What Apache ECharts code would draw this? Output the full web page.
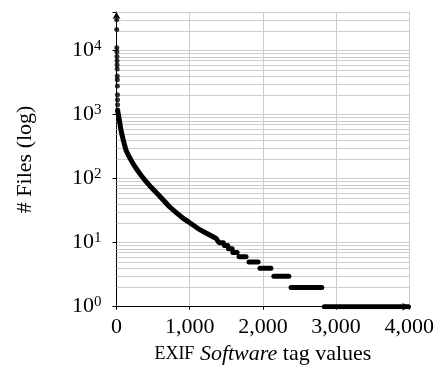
<!DOCTYPE html>
<html>
<head>
<meta charset="utf-8">
<script src="https://cdn.jsdelivr.net/npm/echarts@6/dist/echarts.min.js"></script>
<style>
  html, body { margin: 0; padding: 0; background: #fff; }
  #chart { width: 437px; height: 379px; }
</style>
</head>
<body>
<div id="chart"></div>
<script>
const FONT = 'Liberation Serif';
const FONT_SIZE = 22;
const GRID_COLOR = '#cccccc';
const LINE_WIDTH = 5;

// the few most frequent values, drawn as single dots
let headRanks = [1, 2, 3, 4, 5, 6, 7, 8, 9, 10, 11, 12, 13, 14, 15, 16];
let headCounts = [40600, 30200, 21300, 11100, 9600, 8100, 6900, 5950, 5170, 4000, 3500, 2800, 2050, 1700, 1420, 1180];

// long tail, dense enough to look like a thick line
let curveRanks = [16, 38, 61, 93, 129, 184, 252, 343, 456, 592, 729, 910, 1000, 1137, 1365, 1400, 1460];
let curveCounts = [1150, 830, 575, 400, 282, 209, 154, 110, 77, 53, 36, 24, 20.5, 16, 11.5, 10, 10];

// plateaus of values seen only a handful of times
let stepCounts = [9, 8, 7, 6, 5, 4, 3, 2, 1];
let stepFrom = [1475, 1530, 1590, 1675, 1810, 1960, 2150, 2385, 2840];
let stepTo = [1520, 1580, 1648, 1770, 1935, 2110, 2355, 2805, 3990];

let minorFactors = [2, 3, 4, 5, 6, 7, 8, 9];
let decades = [1, 10, 100, 1000, 10000];
let yMax = 40000;

let minorGrid = [];
decades.forEach(function (d) {
  minorFactors.forEach(function (f) {
    if (d * f <= yMax) minorGrid.push({ yAxis: d * f });
  });
});

let tailLine = {
  type: 'line',
  data: curveRanks.map(function (r, i) { return [r, curveCounts[i]]; }),
  showSymbol: false,
  smooth: 0.2,
  lineStyle: { color: '#000', width: LINE_WIDTH, cap: 'round', join: 'round' },
  z: 3
};

let stepLines = stepCounts.map(function (c, i) {
  return {
    type: 'line',
    data: [[stepFrom[i], c], [stepTo[i], c]],
    showSymbol: false,
    lineStyle: { color: '#000', width: LINE_WIDTH, cap: 'round' },
    z: 3
  };
});

var chartDom = document.getElementById('chart');
var chart = echarts.init(chartDom);
option = {
  animation: false,
  textStyle: { fontFamily: FONT },
  grid: { left: 116.5, right: 27, top: 12, bottom: 72.3, containLabel: false },
  xAxis: {
    type: 'value',
    min: 0,
    max: 4000,
    interval: 1000,
    name: '{sc|EXIF} {it|Software} tag values',
    nameLocation: 'middle',
    nameGap: 35,
    nameTextStyle: {
      fontFamily: FONT,
      fontSize: FONT_SIZE,
      color: '#000',
      rich: {
        sc: { fontFamily: FONT, fontSize: 18, color: '#000' },
        it: { fontFamily: FONT, fontSize: FONT_SIZE, fontStyle: 'italic', color: '#000' }
      }
    },
    axisLine: {
      lineStyle: { color: '#000', width: 1 },
      symbol: ['none', 'arrow'],
      symbolSize: [6, 7]
    },
    axisTick: { show: true, length: 3, lineStyle: { color: '#000' } },
    axisLabel: {
      fontFamily: FONT,
      fontSize: FONT_SIZE,
      color: '#000',
      margin: 10,
      formatter: function (v) { return v.toLocaleString('en-US'); }
    },
    splitLine: { show: true, lineStyle: { color: GRID_COLOR, width: 1 } }
  },
  yAxis: {
    type: 'log',
    logBase: 10,
    min: 1,
    max: yMax,
    name: '# Files (log)',
    nameLocation: 'middle',
    nameGap: 80,
    nameRotate: 90,
    nameTextStyle: { fontFamily: FONT, fontSize: FONT_SIZE, color: '#000' },
    axisLine: {
      show: true,
      lineStyle: { color: '#000', width: 1 },
      symbol: ['none', 'arrow'],
      symbolSize: [6, 7]
    },
    axisTick: { show: true, length: 4, lineStyle: { color: '#000' } },
    axisLabel: {
      color: '#000',
      margin: 15,
      formatter: function (v) {
        let e = Math.round(Math.log10(v));
        if (Math.abs(Math.pow(10, e) - v) > 1e-6 * v) return '';
        return '{b|10}{s|' + e + '}';
      },
      rich: {
        b: { fontFamily: FONT, fontSize: FONT_SIZE, color: '#000', lineHeight: 24 },
        s: { fontFamily: FONT, fontSize: 15, color: '#000', lineHeight: 24, verticalAlign: 'top' }
      }
    },
    splitLine: { show: true, lineStyle: { color: GRID_COLOR, width: 1 } }
  },
  series: [
    {
      type: 'line',
      data: [],
      z: 1,
      markLine: {
        z: 1,
        silent: true,
        symbol: ['none', 'none'],
        label: { show: false },
        lineStyle: { color: GRID_COLOR, type: 'solid', width: 1 },
        data: minorGrid
      }
    },
    {
      type: 'scatter',
      data: headRanks.map(function (r, i) { return [r, headCounts[i]]; }),
      symbol: 'circle',
      symbolSize: 5,
      itemStyle: { color: '#000' },
      z: 4
    },
    tailLine
  ].concat(stepLines)
};
chart.setOption(option);
</script>
</body>
</html>
